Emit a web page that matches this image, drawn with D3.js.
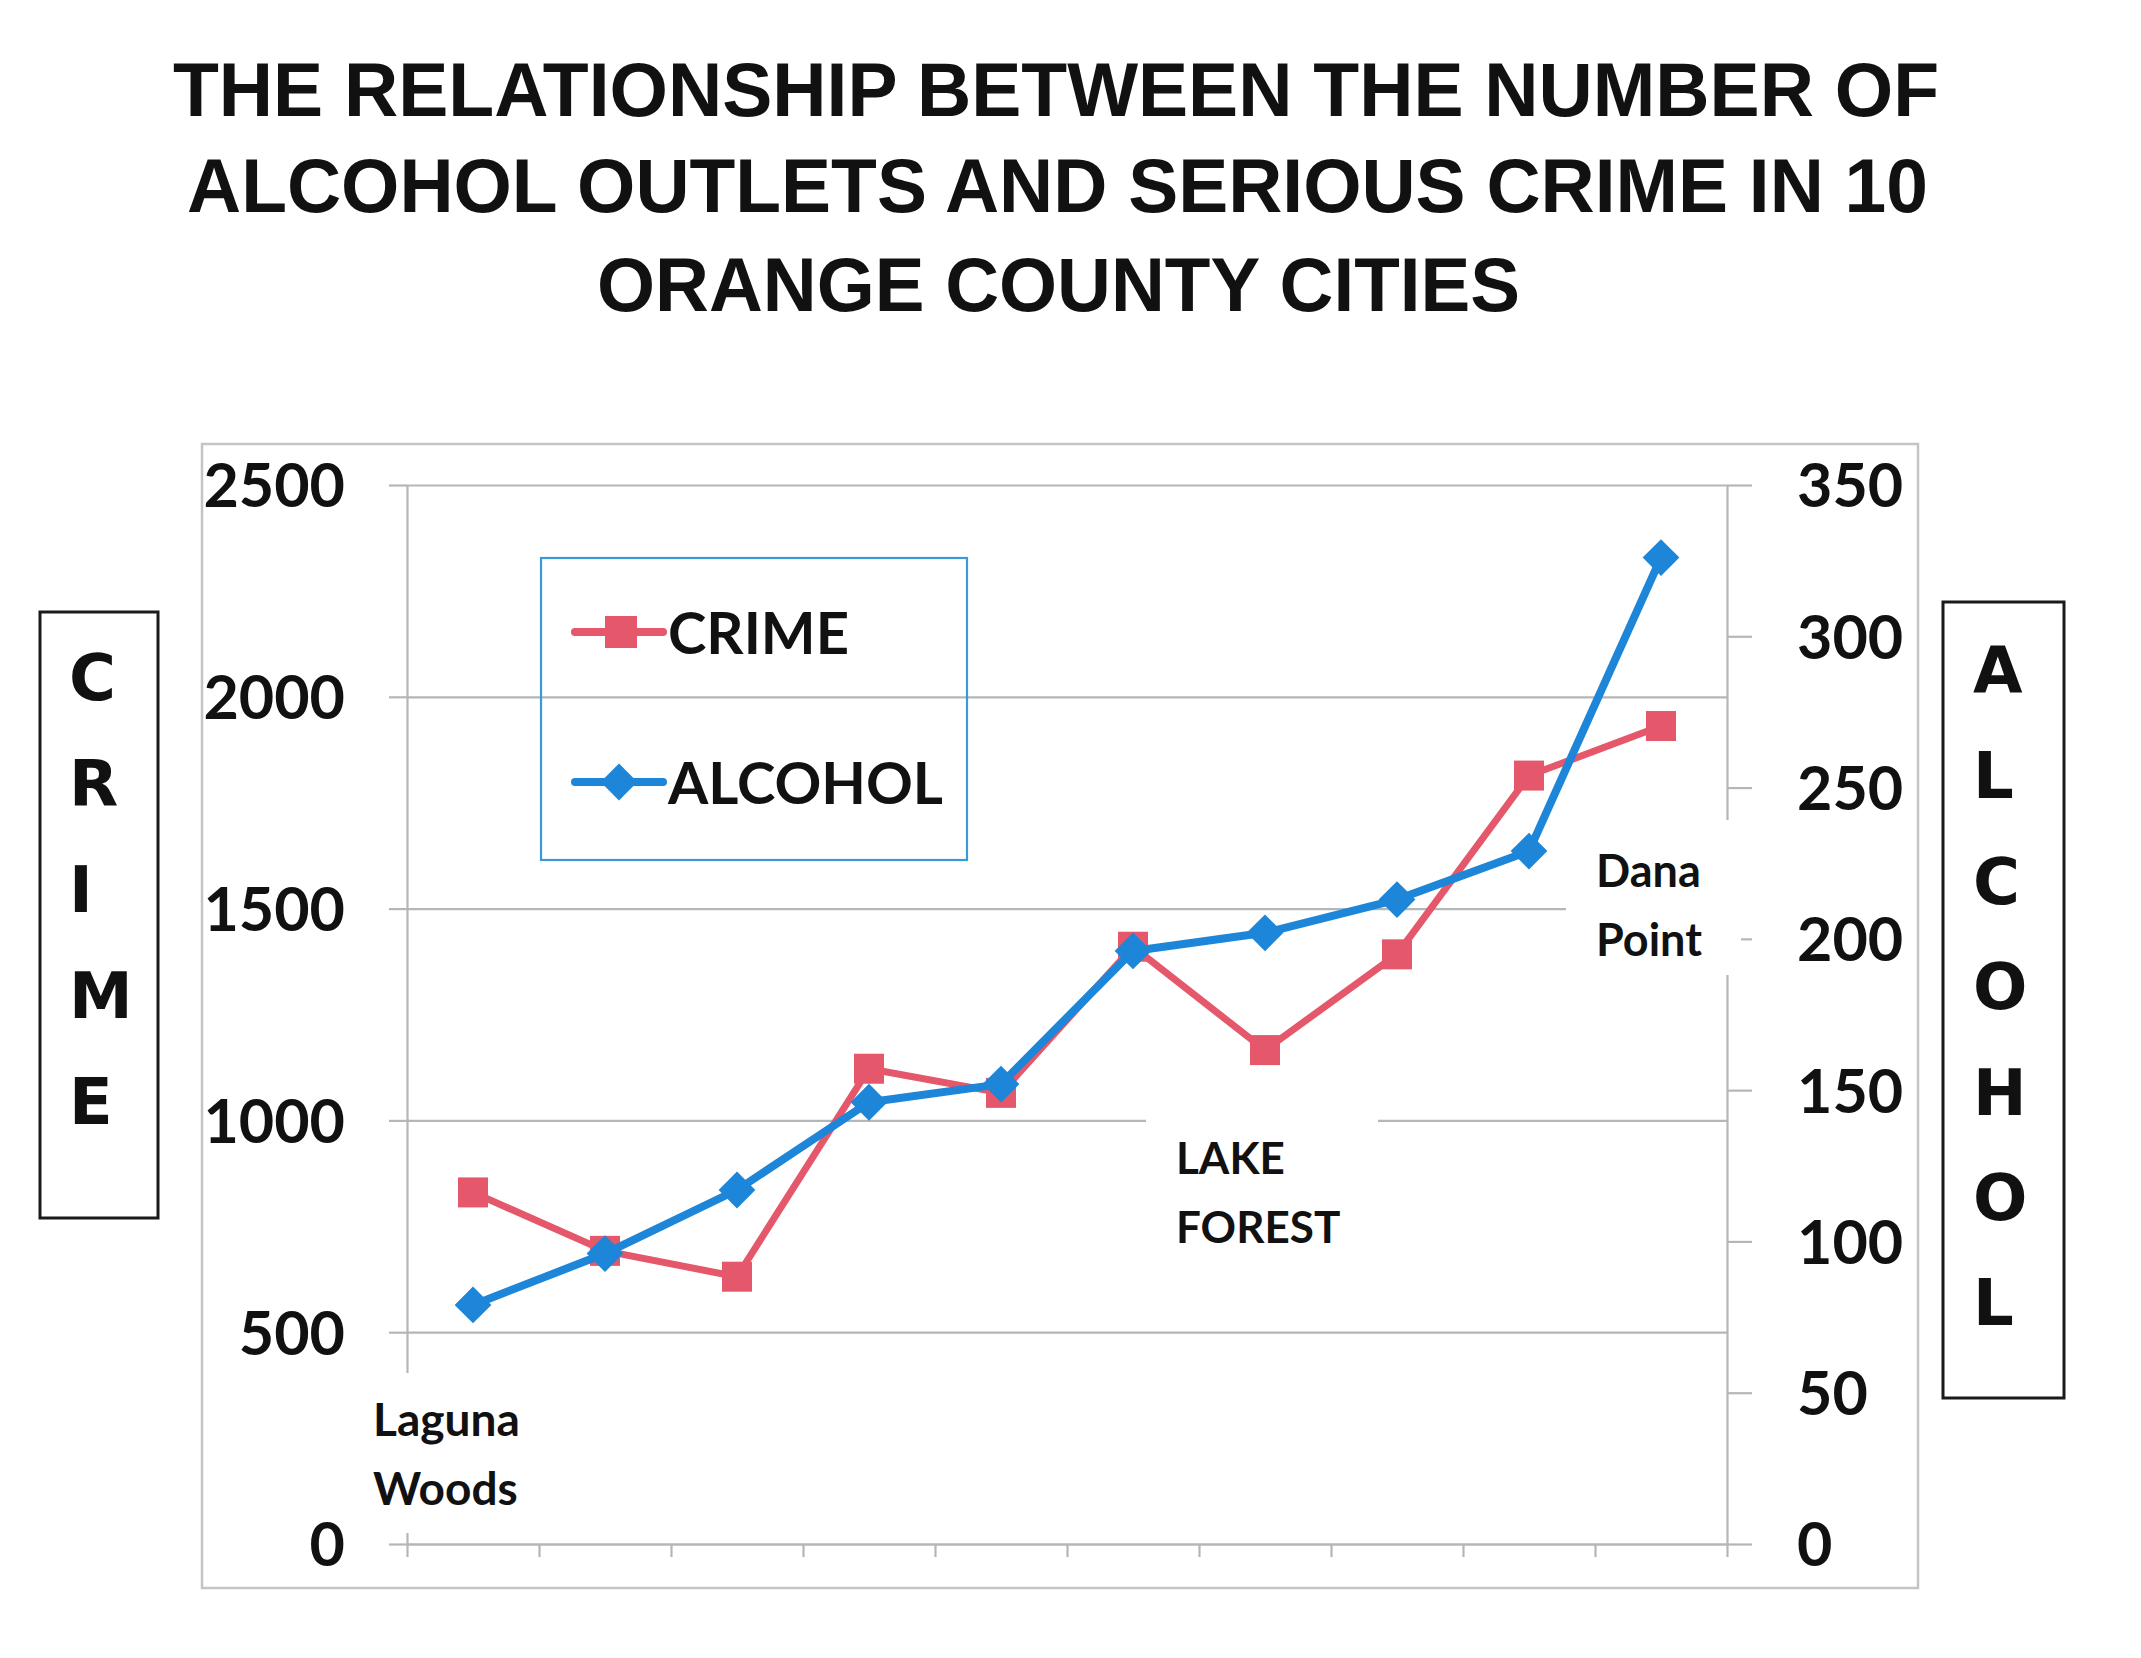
<!DOCTYPE html>
<html>
<head>
<meta charset="utf-8">
<script src="https://cdn.jsdelivr.net/npm/d3@7"></script>
<style>
  html, body { margin: 0; padding: 0; background: #ffffff; }
  svg { display: block; }
</style>
</head>
<body>
<script>
// ---------------- DATA ----------------
const titleLines = [
  "THE RELATIONSHIP BETWEEN THE NUMBER OF",
  "ALCOHOL OUTLETS AND SERIOUS CRIME IN 10",
  "ORANGE COUNTY CITIES"
];
const categories = [1, 2, 3, 4, 5, 6, 7, 8, 9, 10];
const crime   = [830, 692, 631, 1122, 1065, 1410, 1166, 1392, 1814, 1931];
const alcohol = [79, 96, 117, 146, 152, 196, 202, 213, 229, 326];
const crimeTicks   = [0, 500, 1000, 1500, 2000, 2500];
const alcoholTicks = [0, 50, 100, 150, 200, 250, 300, 350];
const seriesNames  = ["CRIME", "ALCOHOL"];
const leftTitle  = "CRIME";
const rightTitle = "ALCOHOL";
const cityNotes = [
  { cat: 1,  lines: ["Laguna", "Woods"] },
  { cat: 7,  lines: ["LAKE", "FOREST"] },
  { cat: 10, lines: ["Dana", "Point"] }
];

// ---------------- LAYOUT / STYLE ----------------
const W = 2141, H = 1658;
const plot = { left: 407, right: 1727, top: 485, bottom: 1544 };
const RED = "#e5576a", BLUE = "#1d86d8", GRID = "#b4b6b8";
const noteLayout = {
  1:  { dx: -100, y0: 1436, boxX: 372, boxY: 1373, boxW: 160, boxH: 160, fs: 46 },
  7:  { dx: -89,  y0: 1174, boxX: 1146, boxY: 1100, boxW: 232, boxH: 160, fs: 44 },
  10: { dx: -65,  y0: 887,  boxX: 1566, boxY: 820,  boxW: 175, boxH: 155, fs: 45 }
};

const svg = d3.select("body").append("svg").attr("width", W).attr("height", H);

// Title
const titleSpec = [
  { y: 116, x0: 173, w: 1766 },
  { y: 212, x0: 187, w: 1741 },
  { y: 311, x0: 597, w: 923 }
];
svg.append("g").selectAll("text").data(titleLines).join("text")
  .attr("x", (d, i) => titleSpec[i].x0)
  .attr("y", (d, i) => titleSpec[i].y)
  .attr("textLength", (d, i) => titleSpec[i].w)
  .attr("lengthAdjust", "spacingAndGlyphs")
  .attr("font-family", "'Liberation Sans', Arial, sans-serif")
  .attr("font-weight", "bold")
  .attr("font-size", 76)
  .attr("fill", "#111")
  .text(d => d);

// Chart outer border
svg.append("rect").attr("x", 202).attr("y", 444).attr("width", 1716).attr("height", 1144)
  .attr("fill", "none").attr("stroke", "#c2c4c6").attr("stroke-width", 2.5);

// Scales
const x = d3.scalePoint().domain(categories).range([plot.left, plot.right]).padding(0.5);
const xEdge = d3.scaleLinear().domain([0, categories.length]).range([plot.left, plot.right]);
const yL = d3.scaleLinear().domain([0, 2500]).range([plot.bottom, plot.top]);
const yR = d3.scaleLinear().domain([0, 350]).range([plot.bottom, plot.top]);
const fmt = d3.format("d");

// Gridlines
const grid = svg.append("g").attr("transform", `translate(${plot.left},0)`)
  .call(d3.axisLeft(yL).tickValues(crimeTicks).tickSize(-(plot.right - plot.left)).tickFormat(""));
grid.select(".domain").remove();
grid.selectAll("line").attr("stroke", GRID).attr("stroke-width", 2.2);

// Left axis
const axL = svg.append("g").attr("transform", `translate(${plot.left},0)`)
  .call(d3.axisLeft(yL).tickValues(crimeTicks).tickFormat(fmt).tickSize(18).tickSizeOuter(0).tickPadding(44));
axL.select(".domain").attr("stroke", GRID).attr("stroke-width", 2.2);
axL.selectAll("line").attr("stroke", GRID).attr("stroke-width", 2.2);
axL.selectAll("text")
  .attr("font-family", "Lato, 'Open Sans', sans-serif").attr("font-weight", "bold")
  .attr("font-size", 61).attr("fill", "#111").attr("dy", "0.36em");

// Right axis
const axR = svg.append("g").attr("transform", `translate(${plot.right},0)`)
  .call(d3.axisRight(yR).tickValues(alcoholTicks).tickFormat(fmt).tickSize(25).tickSizeOuter(0).tickPadding(45));
axR.select(".domain").attr("stroke", GRID).attr("stroke-width", 2.2);
axR.selectAll("line").attr("stroke", GRID).attr("stroke-width", 2.2);
axR.selectAll("text")
  .attr("font-family", "Lato, 'Open Sans', sans-serif").attr("font-weight", "bold")
  .attr("font-size", 61).attr("fill", "#111").attr("dy", "0.36em");

// Bottom category ticks
const axB = svg.append("g").attr("transform", `translate(0,${plot.bottom})`)
  .call(d3.axisBottom(xEdge).ticks(categories.length).tickSize(13).tickSizeOuter(0).tickFormat(""));
axB.select(".domain").attr("stroke", GRID).attr("stroke-width", 2.2);
axB.selectAll("line").attr("stroke", GRID).attr("stroke-width", 2.2);

// City annotations with white backgrounds
const notes = svg.append("g");
cityNotes.forEach(n => {
  const L = noteLayout[n.cat];
  notes.append("rect").attr("x", L.boxX).attr("y", L.boxY).attr("width", L.boxW).attr("height", L.boxH)
    .attr("fill", "#fff");
  n.lines.forEach((t, i) => {
    notes.append("text")
      .attr("x", x(n.cat) + L.dx).attr("y", L.y0 + i * 69)
      .attr("font-family", "Lato, 'Open Sans', sans-serif").attr("font-weight", "bold")
      .attr("font-size", L.fs).attr("fill", "#111").text(t);
  });
});

// Series
const lineCrime = d3.line().x((d, i) => x(categories[i])).y(d => yL(d));
const lineAlc = d3.line().x((d, i) => x(categories[i])).y(d => yR(d));
svg.append("path").datum(crime).attr("d", lineCrime)
  .attr("fill", "none").attr("stroke", RED).attr("stroke-width", 7).attr("stroke-linejoin", "round");
svg.append("g").selectAll("rect").data(crime).join("rect")
  .attr("x", (d, i) => x(categories[i]) - 15).attr("y", d => yL(d) - 15)
  .attr("width", 30).attr("height", 30).attr("fill", RED);

svg.append("path").datum(alcohol).attr("d", lineAlc)
  .attr("fill", "none").attr("stroke", BLUE).attr("stroke-width", 8).attr("stroke-linejoin", "round");
const diamond = d3.symbol().type(d3.symbolSquare).size(26 * 26)();
svg.append("g").selectAll("path").data(alcohol).join("path")
  .attr("d", diamond)
  .attr("transform", (d, i) => `translate(${x(categories[i])},${yR(d)}) rotate(45)`)
  .attr("fill", BLUE);

// Legend
const lg = svg.append("g");
lg.append("rect").attr("x", 541).attr("y", 558).attr("width", 426).attr("height", 302)
  .attr("fill", "none").attr("stroke", "#3a9ad8").attr("stroke-width", 2.2);
const legendRows = [
  { name: seriesNames[0], color: RED, y: 632, shape: "square" },
  { name: seriesNames[1], color: BLUE, y: 782, shape: "diamond" }
];
legendRows.forEach(r => {
  lg.append("line").attr("x1", 575).attr("x2", 663).attr("y1", r.y).attr("y2", r.y)
    .attr("stroke", r.color).attr("stroke-width", 8).attr("stroke-linecap", "round");
  if (r.shape === "square") {
    lg.append("rect").attr("x", 605).attr("y", r.y - 16).attr("width", 32).attr("height", 32).attr("fill", r.color);
  } else {
    lg.append("path").attr("d", diamond).attr("transform", `translate(619,${r.y}) rotate(45)`).attr("fill", r.color);
  }
  lg.append("text").attr("x", 668).attr("y", r.y + 22)
    .attr("font-family", "Lato, 'Open Sans', sans-serif").attr("font-weight", "bold")
    .attr("font-size", 58).attr("fill", "#111").text(r.name);
});

// Side titles in boxes
function sideBox(label, bx, by, bw, bh, tx, ty0, step) {
  const g = svg.append("g");
  g.append("rect").attr("x", bx).attr("y", by).attr("width", bw).attr("height", bh)
    .attr("fill", "none").attr("stroke", "#1a1a1a").attr("stroke-width", 3);
  g.selectAll("text").data(label.split("")).join("text")
    .attr("x", tx).attr("y", (d, i) => ty0 + i * step)
    .attr("font-family", "'DejaVu Sans', Verdana, sans-serif").attr("font-weight", "bold")
    .attr("font-size", 64).attr("fill", "#111").text(d => d);
}
sideBox(leftTitle, 40, 612, 118, 606, 69, 700, 106);
sideBox(rightTitle, 1943, 602, 121, 796, 1973, 693, 105.4);
</script>
</body>
</html>
